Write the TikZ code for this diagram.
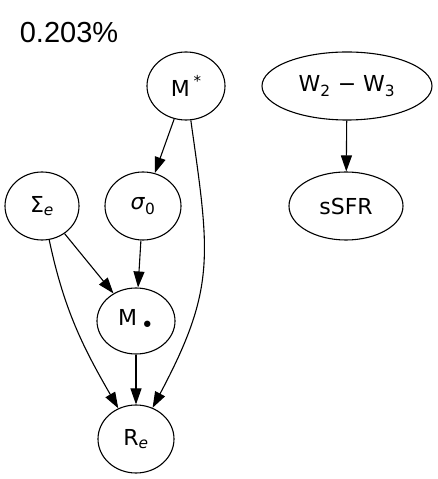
\documentclass[tikz,border=0pt]{standalone}
\usepackage{fontspec}
\setmainfont{DejaVu Sans}
\newfontfamily\titlefont{Liberation Sans}
\usetikzlibrary{shapes.geometric,arrows.meta}

\tikzset{
  var/.style   = {shape=ellipse, draw, line width=1.1pt, inner sep=0pt,
                  minimum height=68pt, font=\fontsize{22}{26}\selectfont},
  link/.style  = {draw, line width=1.1pt, -{Triangle[length=16pt,width=11pt]}},
  title/.style = {font=\titlefont\fontsize{29}{34}\selectfont}
}

\begin{document}
\begin{tikzpicture}[x=1pt,y=1pt]
  \useasboundingbox (0,0) rectangle (438,479);

  \node [title] (pct) at (69,446) {0.203\%};

  % top row
  \node [var, minimum width=78pt]  (mstar) at (186,393) {M\,\raisebox{0.45em}{\fontsize{15}{15}\selectfont *}};
  \node [var, minimum width=170pt] (wdiff) at (347,393) {W\textsubscript{2} − W\textsubscript{3}};

  % middle row
  \node [var, minimum width=74pt]  (sige) at (42,273)  {Σ\textsubscript{\itshape e}};
  \node [var, minimum width=76pt]  (sig0) at (143,273) {\textit{σ}\textsubscript{0}};
  \node [var, minimum width=114pt] (ssfr) at (346,273) {sSFR};

  % bottom
  \node [var, minimum width=78pt, minimum height=66pt] (mbh) at (136,158)
        {M\,\raisebox{-0.28em}{•}};
  \node [var, minimum width=76pt] (re) at (136,40) {R\textsubscript{\itshape e}};

  \draw [link] (mstar) -- (sig0);
  \draw [link] (mstar) to[out=-82, in=62, looseness=1.2] (re);
  \draw [link] (wdiff) -- (ssfr);
  \draw [link] (sige) -- (mbh);
  \draw [link] (sige) to[out=-78, in=120] (re);
  \draw [link] (sig0) -- (mbh);
  \draw [link] (mbh) -- (re);
\end{tikzpicture}
\end{document}
